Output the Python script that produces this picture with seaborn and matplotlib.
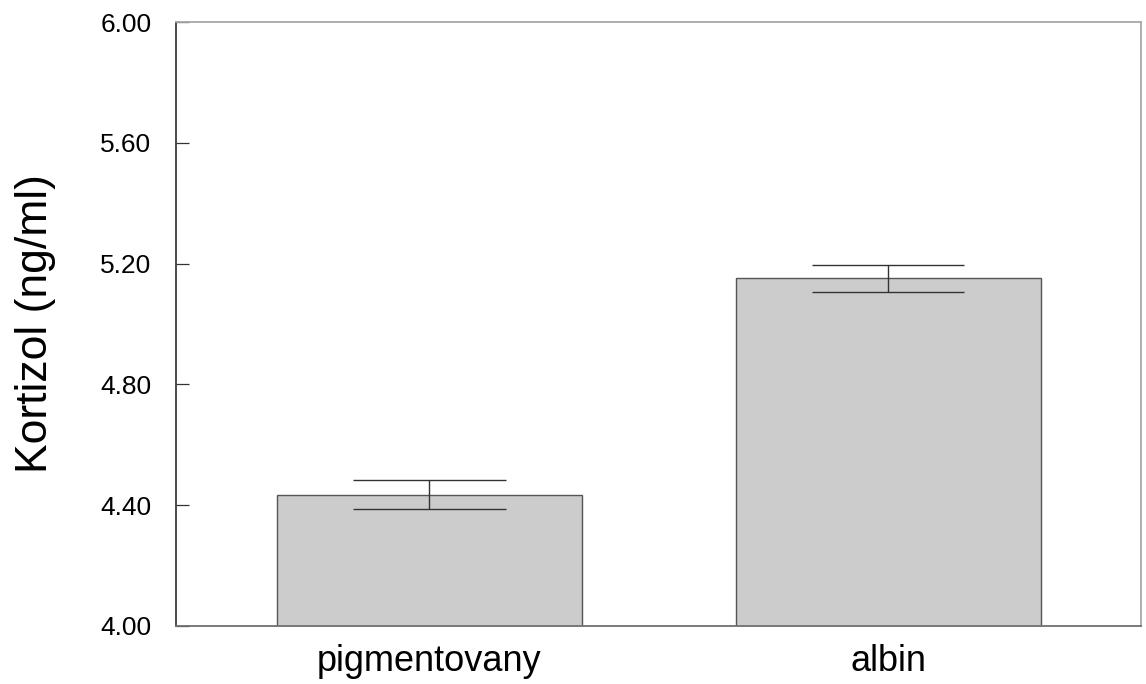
import matplotlib
matplotlib.use("Agg")
import matplotlib.pyplot as plt
import seaborn as sns
import pandas as pd
import numpy as np

# Cortisol levels by group: mean and standard error
groups = ["pigmentovany", "albin"]
means = [4.434, 5.151]
sems = [0.048, 0.046]
yticks = [4.00, 4.40, 4.80, 5.20, 5.60, 6.00]

df = pd.DataFrame({"group": groups, "kortizol": means})

sns.set_theme(style="white")
plt.rcParams["font.family"] = ["Liberation Sans", "DejaVu Sans"]
plt.rcParams["ytick.direction"] = "in"
plt.rcParams["ytick.left"] = True

fig = plt.figure(figsize=(11.46, 6.84), dpi=100)
ax = fig.add_axes([0.1538, 0.0848, 0.8416, 0.8830])

bar_width = 0.665
sns.barplot(data=df, x="group", y="kortizol", order=groups, ax=ax,
            color="#cccccc", edgecolor="#555555", linewidth=1.0,
            width=bar_width, saturation=1, errorbar=None)

# error bars: vertical whisker plus caps spanning half the bar width
xpos = np.arange(len(groups))
lo = np.array(means) - np.array(sems)
hi = np.array(means) + np.array(sems)
cap = bar_width / 4
ax.vlines(xpos, lo, hi, color="#333333", linewidth=1.0, zorder=3)
ax.hlines(lo, xpos - cap, xpos + cap, color="#333333", linewidth=1.0, zorder=3)
ax.hlines(hi, xpos - cap, xpos + cap, color="#333333", linewidth=1.0, zorder=3)

ax.set_xlim(-0.552, 1.551)
ax.set_ylim(4.0, 6.0)
ax.set_yticks(yticks)
ax.set_yticklabels([f"{v:.2f}" for v in yticks])

ax.tick_params(axis="y", which="major", direction="in", length=9.5, width=0.9,
               color="#333333", labelsize=19, pad=18, left=True, right=False)
ax.tick_params(axis="x", length=0, labelsize=26, pad=13)
for lab in ax.get_xticklabels() + ax.get_yticklabels():
    lab.set_color("black")

ax.set_xlabel("")
ax.set_ylabel("Kortizol (ng/ml)", fontsize=32, color="black")
ax.yaxis.set_label_coords(-0.125, 0.5)

ax.spines["left"].set_color("#3c3c3c")
ax.spines["bottom"].set_color("#707070")
ax.spines["top"].set_color("#a8a8a8")
ax.spines["right"].set_color("#a8a8a8")
for s in ax.spines.values():
    s.set_visible(True)
    s.set_linewidth(1.3)

fig.savefig("out.png", dpi=100, facecolor="white")
